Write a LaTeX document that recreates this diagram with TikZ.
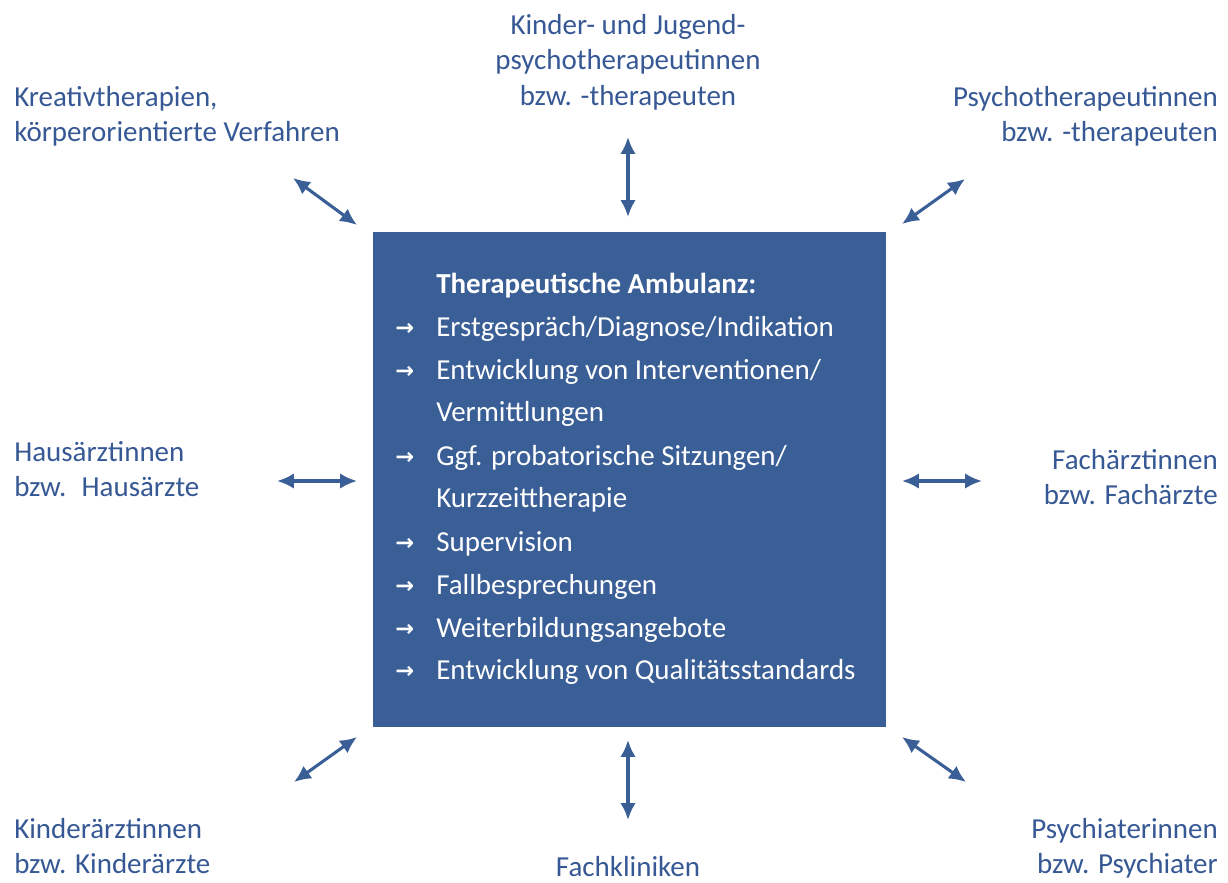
\documentclass[tikz,border=0pt]{standalone}
\usepackage{fontspec}
\setmainfont{Carlito}
\newfontfamily\arrowfont{DejaVu Sans}
\usetikzlibrary{arrows.meta,positioning}
\definecolor{ambblue}{RGB}{58,94,150}
\definecolor{labelblue}{RGB}{54,88,148}

\begin{document}
\begin{tikzpicture}[x=0.025cm,y=-0.025cm,
  partner/.style={text=labelblue, font=\fontsize{20.6}{25.2}\selectfont, inner sep=0pt},
  boxline/.style={anchor=base west, text=white, inner sep=0pt, font=\fontsize{20.6}{24}\selectfont},
  link/.style={line width=2.2pt, draw=ambblue, {Latex[length=12pt,width=11pt]}-{Latex[length=12pt,width=11pt]}}
]
  \useasboundingbox (0,0) rectangle (1228,882);

  % central box
  \node[fill=ambblue, minimum width=513*0.025cm, minimum height=495*0.025cm, inner sep=0pt] (amb) at (629.5,479.5) {};
  \node[boxline, font=\fontsize{20.6}{24}\selectfont\bfseries] (title) at (436,293) {Therapeutische Ambulanz:};
  \foreach \y/\a/\t [count=\i] in {
      336/1/{Erstgespräch/Diagnose/Indikation},
      379/1/{Entwicklung von Interventionen/},
      421/0/{Vermittlungen},
      465/1/{Ggf. probatorische Sitzungen/},
      507/0/{Kurzzeittherapie},
      551/1/{Supervision},
      594/1/{Fallbesprechungen},
      637/1/{Weiterbildungsangebote},
      679/1/{Entwicklung von Qualitätsstandards}} {
    \node[boxline] (item\i) at (436,\y) {\t};
    \ifnum\a=1
      \node[boxline, font=\fontsize{16}{20}\selectfont\arrowfont\bfseries] (tip\i) at (395,\y-1) {→};
    \fi
  }

  % partners
  \node[partner, align=center, anchor=north] (kjp) at (628,14) {Kinder- und Jugend-\\psychotherapeutinnen\\bzw. -therapeuten};
  \node[partner, align=left, anchor=north west] (kreativ) at (14,86) {Kreativtherapien,\\körperorientierte Verfahren};
  \node[partner, align=right, anchor=north east] (psy) at (1218,86) {Psychotherapeutinnen\\bzw. -therapeuten};
  \node[partner, align=left, anchor=north west] (haus) at (14,441) {Hausärztinnen\\bzw.~ Hausärzte};
  \node[partner, align=right, anchor=north east] (fach) at (1218,449) {Fachärztinnen\\bzw. Fachärzte};
  \node[partner, align=left, anchor=north west] (kinder) at (14,818) {Kinderärztinnen\\bzw. Kinderärzte};
  \node[partner, anchor=north] (klinik) at (628,856) {Fachkliniken};
  \node[partner, align=right, anchor=north east] (psychiater) at (1218,818) {Psychiaterinnen\\bzw. Psychiater};

  % arrow ends
  \coordinate (tl-a) at (293,178);  \coordinate (tl-b) at (357,225);
  \coordinate (t-a) at (628,137);   \coordinate (t-b) at (628,217);
  \coordinate (tr-a) at (965,179);  \coordinate (tr-b) at (902,224);
  \coordinate (l-a) at (277,481);   \coordinate (l-b) at (357,481);
  \coordinate (r-a) at (902,481);   \coordinate (r-b) at (982,481);
  \coordinate (bl-a) at (294,782);  \coordinate (bl-b) at (357,737);
  \coordinate (b-a) at (628,740);   \coordinate (b-b) at (628,820);
  \coordinate (br-a) at (902,737);  \coordinate (br-b) at (966,782);

  \draw[link] (tl-a) -- (tl-b);
  \draw[link] (t-a) -- (t-b);
  \draw[link] (tr-a) -- (tr-b);
  \draw[link] (l-a) -- (l-b);
  \draw[link] (r-a) -- (r-b);
  \draw[link] (bl-a) -- (bl-b);
  \draw[link] (b-a) -- (b-b);
  \draw[link] (br-a) -- (br-b);
\end{tikzpicture}
\end{document}
